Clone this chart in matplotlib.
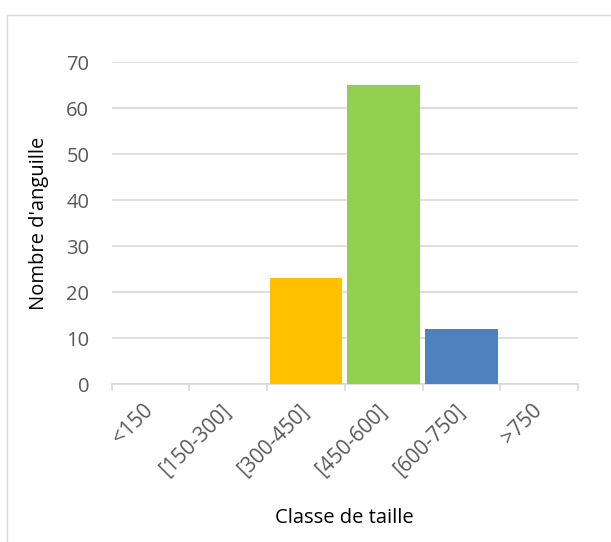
import matplotlib.pyplot as plt
from matplotlib.patches import Rectangle

classes = ['<150', '[150-300]', '[300-450]', '[450-600]', '[600-750]', '>750']
nombre = [0, 0, 23, 65, 12, 0]
couleurs = ['#FFC000', '#FFC000', '#FFC000', '#92D050', '#4F81BD', '#4F81BD']

plt.rcParams['font.family'] = ['Open Sans', 'DejaVu Sans']

W, H = 611, 542
fig = plt.figure(figsize=(W / 100, H / 100), dpi=100)

# cadre de la zone de graphique
fig.add_artist(Rectangle((7 / W, -0.1), 1.2, 1 - 15 / H + 0.1, transform=fig.transFigure,
                         fill=False, edgecolor='#D9D9D9', linewidth=1))

ax = fig.add_axes([111.5 / W, 1 - 384 / H, (578 - 111.5) / W, (384 - 62) / H])

x = range(len(classes))
ax.bar(x, nombre, width=0.93, color=couleurs, zorder=3)

ax.set_xlim(-0.5, len(classes) - 0.5)
ax.set_ylim(0, 70)
ax.set_yticks(range(0, 71, 10))
ax.yaxis.grid(True, color='#D9D9D9', linewidth=1.2, zorder=0)

for s in ['top', 'right', 'left']:
    ax.spines[s].set_visible(False)
ax.spines['bottom'].set_color('#D9D9D9')
ax.spines['bottom'].set_linewidth(1.2)

ax.set_xticks([i - 0.5 for i in range(len(classes) + 1)], minor=True)
ax.tick_params(axis='x', which='minor', length=5, color='#D9D9D9', width=1.2)
ax.tick_params(axis='x', which='major', length=0, pad=17)
ax.tick_params(axis='y', length=0, pad=16, labelsize=14.5, labelcolor='#595959')

ax.set_xticks(list(x))
ax.set_xticklabels(classes, rotation=45, ha='right', va='center', rotation_mode='anchor',
                   fontsize=15, color='#595959')

ax.set_xlabel('Classe de taille', fontsize=14.5, labelpad=20)
ax.set_ylabel("Nombre d'anguille", fontsize=14.5, labelpad=12)

plt.savefig('out.png', dpi=100)
